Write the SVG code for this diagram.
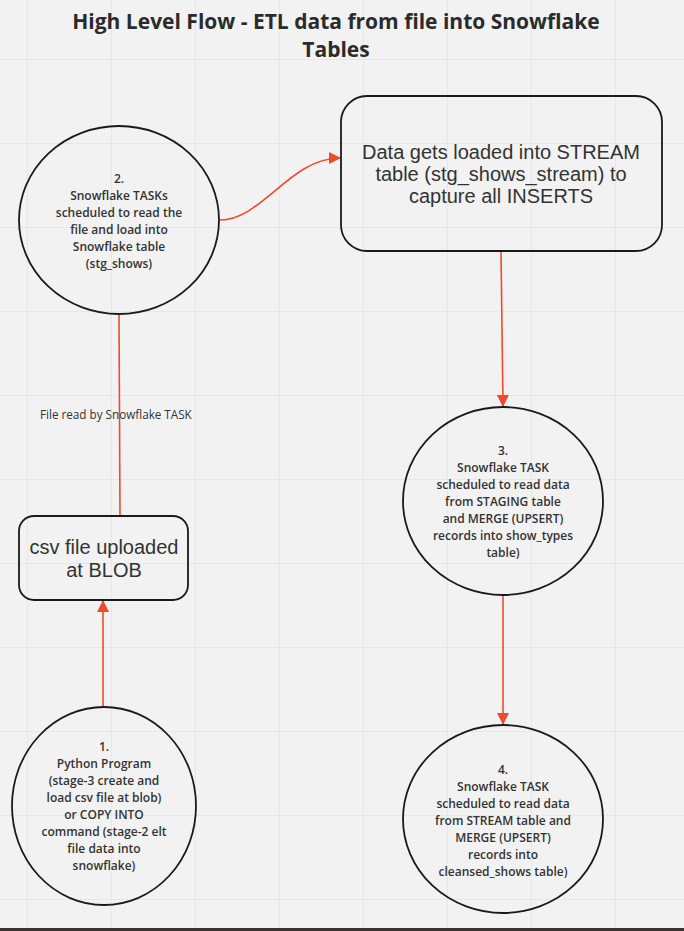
<svg xmlns="http://www.w3.org/2000/svg" width="684" height="931" viewBox="0 0 684 931">
<defs>
<marker id="ah" markerWidth="12" markerHeight="12" refX="11" refY="6" orient="auto" markerUnits="userSpaceOnUse">
<path d="M0,0 L12,6 L0,12 Z" fill="#ee4b2b"/>
</marker>
<pattern id="grid" x="27" y="59" width="84" height="84" patternUnits="userSpaceOnUse">
<path d="M0,0 H84 M0,0 V84" stroke="#dcdcdc" stroke-width="1" fill="none"/>
</pattern>
</defs>
<style>
.node{fill:none;stroke:#1a1a1a;stroke-width:1.8}
.ct{font-family:"Open Sans","Liberation Sans",sans-serif;font-size:12px;font-weight:600;fill:#333;text-anchor:middle}
.bt{font-family:"Liberation Sans",Arial,sans-serif;font-size:20px;fill:#333;text-anchor:middle}
.conn{fill:none;stroke:#ee4b2b;stroke-width:1.6}
.title{font-family:"Open Sans","Liberation Sans",sans-serif;font-size:21px;font-weight:700;fill:#2b2b2b;text-anchor:middle}
.lbl{font-family:"Open Sans","Liberation Sans",sans-serif;font-size:11.7px;fill:#333}
</style>
<rect width="684" height="931" fill="#f2f2f2"/>
<rect width="684" height="931" fill="url(#grid)"/>
<rect x="0" y="928" width="684" height="3" fill="#3a3330"/>
<g id="title">
<text class="title" x="336" y="29">High Level Flow - ETL data from file into Snowflake</text>
<text class="title" x="336" y="57">Tables</text>
</g>
<g id="connectors">
<path class="conn" d="M220,220 C262,220 290,158 340,158" marker-end="url(#ah)"/>
<path class="conn" d="M501,251 L503,406" marker-end="url(#ah)"/>
<path class="conn" d="M503,595 L503,724" marker-end="url(#ah)"/>
<path class="conn" d="M103,707 L103,601" marker-end="url(#ah)"/>
<path class="conn" d="M120,516 L119,314"/>
<text class="lbl" x="40" y="419">File read by Snowflake TASK</text>
</g>
<g id="node2">
<ellipse class="node" cx="119" cy="220" rx="100" ry="94"/>
<text class="ct" x="119" y="183">2.</text>
<text class="ct" x="119" y="200">Snowflake TASKs</text>
<text class="ct" x="119" y="217">scheduled to read the</text>
<text class="ct" x="119" y="234">file and load into</text>
<text class="ct" x="119" y="251">Snowflake table</text>
<text class="ct" x="119" y="268">(stg_shows)</text>
</g>
<g id="stream">
<rect class="node" x="341" y="96" width="321" height="155" rx="26"/>
<text class="bt" x="501" y="159">Data gets loaded into STREAM</text>
<text class="bt" x="501" y="181">table (stg_shows_stream) to</text>
<text class="bt" x="501" y="203">capture all INSERTS</text>
</g>
<g id="node3">
<ellipse class="node" cx="503" cy="501" rx="100" ry="94"/>
<text class="ct" x="503" y="455">3.</text>
<text class="ct" x="503" y="472">Snowflake TASK</text>
<text class="ct" x="503" y="489">scheduled to read data</text>
<text class="ct" x="503" y="506">from STAGING table</text>
<text class="ct" x="503" y="523">and MERGE (UPSERT)</text>
<text class="ct" x="503" y="540">records into show_types</text>
<text class="ct" x="503" y="557">table)</text>
</g>
<g id="node4">
<ellipse class="node" cx="503" cy="819" rx="100" ry="94"/>
<text class="ct" x="503" y="774">4.</text>
<text class="ct" x="503" y="791">Snowflake TASK</text>
<text class="ct" x="503" y="808">scheduled to read data</text>
<text class="ct" x="503" y="825">from STREAM table and</text>
<text class="ct" x="503" y="842">MERGE (UPSERT)</text>
<text class="ct" x="503" y="859">records into</text>
<text class="ct" x="503" y="876">cleansed_shows table)</text>
</g>
<g id="csv">
<rect class="node" x="19" y="516" width="169" height="84" rx="15"/>
<text class="bt" x="104" y="554">csv file uploaded</text>
<text class="bt" x="104" y="577">at BLOB</text>
</g>
<g id="node1">
<ellipse class="node" cx="104" cy="806" rx="92" ry="99"/>
<text class="ct" x="104" y="751">1.</text>
<text class="ct" x="104" y="768">Python Program</text>
<text class="ct" x="104" y="785">(stage-3 create and</text>
<text class="ct" x="104" y="802">load csv file at blob)</text>
<text class="ct" x="104" y="819">or COPY INTO</text>
<text class="ct" x="104" y="836">command (stage-2 elt</text>
<text class="ct" x="104" y="853">file data into</text>
<text class="ct" x="104" y="870">snowflake)</text>
</g>
</svg>
